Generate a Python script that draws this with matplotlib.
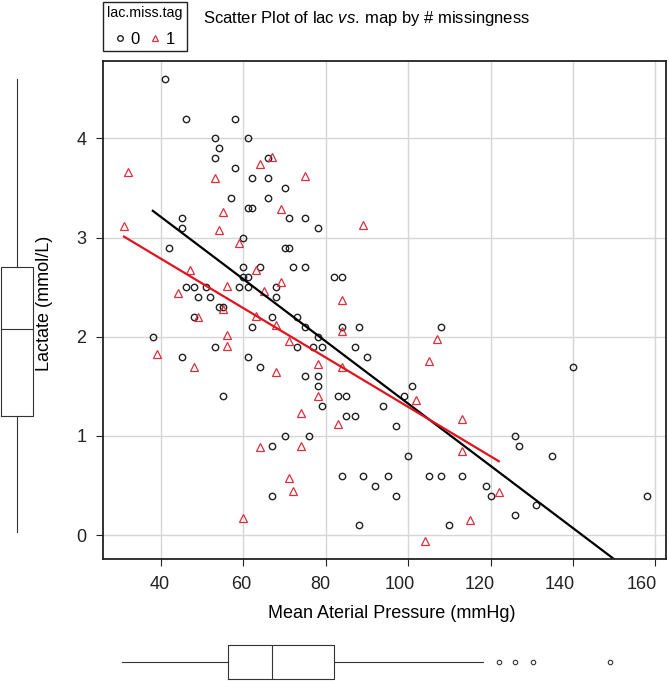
import matplotlib
matplotlib.use("Agg")
import matplotlib.pyplot as plt
import matplotlib.transforms as mtransforms
from matplotlib.lines import Line2D
import numpy as np

plt.rcParams['font.family'] = ['Liberation Sans', 'DejaVu Sans']
plt.rcParams['mathtext.fontset'] = 'custom'
plt.rcParams['mathtext.rm'] = 'Liberation Sans'
plt.rcParams['mathtext.it'] = 'Liberation Sans:italic'

map_0 = [41, 46, 58, 53, 61, 54, 53, 58, 62, 66, 66, 70, 57, 66, 61, 62, 71, 45, 45, 60,
         42, 70, 71, 60, 64, 72, 60, 61, 46, 48, 51, 59, 61, 68, 49, 52, 68, 54, 55, 48,
         67, 62, 73, 73, 38, 53, 45, 61, 64, 55, 70, 67, 67,
         75, 78, 75, 82, 84, 75, 84, 88, 108, 78, 77, 79, 87, 90, 75, 78, 78, 101, 83, 85,
         99, 79, 94, 85, 87, 97, 76, 100, 84, 89, 95, 105, 108, 113, 92, 97, 88, 110,
         140, 126, 127, 135, 119, 120, 131, 126, 158]
lac_0 = [4.6, 4.2, 4.2, 4.0, 4.0, 3.9, 3.8, 3.7, 3.6, 3.6, 3.8, 3.5, 3.4, 3.4, 3.3, 3.3, 3.2, 3.2, 3.1, 3.0,
         2.9, 2.9, 2.9, 2.7, 2.7, 2.7, 2.6, 2.6, 2.5, 2.5, 2.5, 2.5, 2.5, 2.5, 2.4, 2.4, 2.4, 2.3, 2.3, 2.2,
         2.2, 2.1, 2.2, 1.9, 2.0, 1.9, 1.8, 1.8, 1.7, 1.4, 1.0, 0.9, 0.4,
         3.2, 3.1, 2.7, 2.6, 2.6, 2.1, 2.1, 2.1, 2.1, 2.0, 1.9, 1.9, 1.9, 1.8, 1.6, 1.6, 1.5, 1.5, 1.4, 1.4,
         1.4, 1.3, 1.3, 1.2, 1.2, 1.1, 1.0, 0.8, 0.6, 0.6, 0.6, 0.6, 0.6, 0.6, 0.5, 0.4, 0.1, 0.1,
         1.7, 1.0, 0.9, 0.8, 0.5, 0.4, 0.3, 0.2, 0.4]

# group 1 (lactate missing / imputed)
map_1 = [32, 53, 64, 67, 55, 69, 31, 54, 75, 89,
         59, 47, 63, 69, 56, 65, 44, 55, 49, 63, 68, 71, 56, 56, 39, 48, 68,
         84, 84, 107, 105, 78, 84, 78, 102, 74, 83, 113, 74, 113, 64, 71, 72, 60, 115, 104, 122]
lac_1 = [3.66, 3.60, 3.74, 3.81, 3.26, 3.29, 3.12, 3.08, 3.62, 3.13,
         2.95, 2.67, 2.67, 2.55, 2.51, 2.46, 2.44, 2.28, 2.20, 2.21, 2.12, 1.96, 2.02, 1.91, 1.83, 1.70, 1.64,
         2.37, 2.06, 1.98, 1.76, 1.73, 1.70, 1.40, 1.36, 1.23, 1.12, 1.17, 0.90, 0.85, 0.89, 0.58, 0.45, 0.17,
         0.15, -0.06, 0.44]

# least-squares lines (intercept, slope) as drawn
fit_0 = [4.461, -0.03135]
fit_1 = [3.781, -0.02488]

# marginal boxplot summaries
map_box = dict(whislo=30.5, q1=56.3, med=66.9, q3=82.0, whishi=118.2, fliers=[122.1, 126.0, 130.4, 149.0])
lac_box = dict(whislo=0.03, q1=1.20, med=2.08, q3=2.70, whishi=4.60, fliers=[])

xticks = [40, 60, 80, 100, 120, 140, 160]
yticks = [0, 1, 2, 3, 4]
# the x tick labels sit a little left of their gridlines in the original (pixels)
xlabel_shift = [-1, -2, -5, -8, -11, -13, -14]

W, H = 669, 681
fig = plt.figure(figsize=(W / 100, H / 100), dpi=100)

def px_box(l, t, r, b):
    return [l / W, 1 - b / H, (r - l) / W, (b - t) / H]

ax = fig.add_axes(px_box(103, 61, 666, 559))
ax.set_xlim(25.9, 162.6)
ax.set_ylim(-0.24, 4.78)
ax.set_xticks(xticks)
ax.set_yticks(yticks)
ax.grid(True, color='#d6d6d6', lw=1.0)
ax.set_axisbelow(True)
for s in ax.spines.values():
    s.set_linewidth(1.3)
    s.set_color('#222222')
ax.tick_params(direction='out', length=5, width=0.8, pad=7, labelsize=13, colors='#222222')
for lab, dx in zip(ax.get_xticklabels(), xlabel_shift):
    lab.set_transform(lab.get_transform() + mtransforms.ScaledTranslation(dx / 100, 0, fig.dpi_scale_trans))

red = '#d9303e'
ax.plot(map_0, lac_0, ls='none', marker='o', ms=4.6, mfc='none', mec='#222222', mew=1.0)
ax.plot(map_1, lac_1, ls='none', marker='^', ms=5.8, mfc='none', mec=red, mew=0.9)

xs0 = np.array([min(map_0), max(map_0)])
ax.plot(xs0, fit_0[0] + fit_0[1] * xs0, color='black', lw=1.6)
xs1 = np.array([min(map_1), max(map_1)])
ax.plot(xs1, fit_1[0] + fit_1[1] * xs1, color='#e0141e', lw=1.6)

ax.set_xlabel('Mean Aterial Pressure (mmHg)', fontsize=13, labelpad=9)
ax.xaxis.set_label_coords(0.513, -0.092)
ax.set_ylabel('Lactate (mmol/L)', fontsize=13, labelpad=12)
ax.yaxis.set_label_coords(-0.088, 0.514)

fig.text(203 / W, 1 - 19 / H, r'Scatter Plot of lac $\it{vs.}\,$map by # missingness',
         fontsize=12, ha='left', va='center')

handles = [Line2D([], [], ls='none', marker='o', ms=4, mfc='none', mec='#222222', mew=1.0),
           Line2D([], [], ls='none', marker='^', ms=5, mfc='none', mec=red, mew=0.9)]
leg = ax.legend(handles, ['0', '1'], title='lac.miss.tag', ncol=2, loc='upper left',
                bbox_to_anchor=(103 / W, 1 - 2 / H), bbox_transform=fig.transFigure,
                borderaxespad=0, fancybox=False, edgecolor='#222222', framealpha=1,
                fontsize=12, title_fontsize=10.3, handlelength=0.6, handletextpad=0.35,
                columnspacing=0.6, borderpad=0.25, labelspacing=0.7, alignment='center')
leg.get_frame().set_linewidth(1.0)

boxprops = dict(color='#333333', lw=0.8)
# bottom marginal boxplot
axb = fig.add_axes(px_box(103, 643, 666, 681))
axb.set_xlim(ax.get_xlim())
axb.set_ylim(0, 1)
axb.bxp([map_box], positions=[0.5], widths=0.895, vert=False, showcaps=False,
        boxprops=boxprops, whiskerprops=boxprops, medianprops=boxprops,
        flierprops=dict(marker='o', ms=3.2, mfc='none', mec='#333333', mew=0.8))
axb.axis('off')

# left marginal boxplot
axl = fig.add_axes(px_box(0, 61, 36, 559))
axl.set_ylim(ax.get_ylim())
axl.set_xlim(0, 1)
axl.bxp([lac_box], positions=[0.48], widths=0.889, showcaps=False,
        boxprops=boxprops, whiskerprops=boxprops, medianprops=boxprops)
axl.axis('off')

fig.savefig('out.png', dpi=100)
